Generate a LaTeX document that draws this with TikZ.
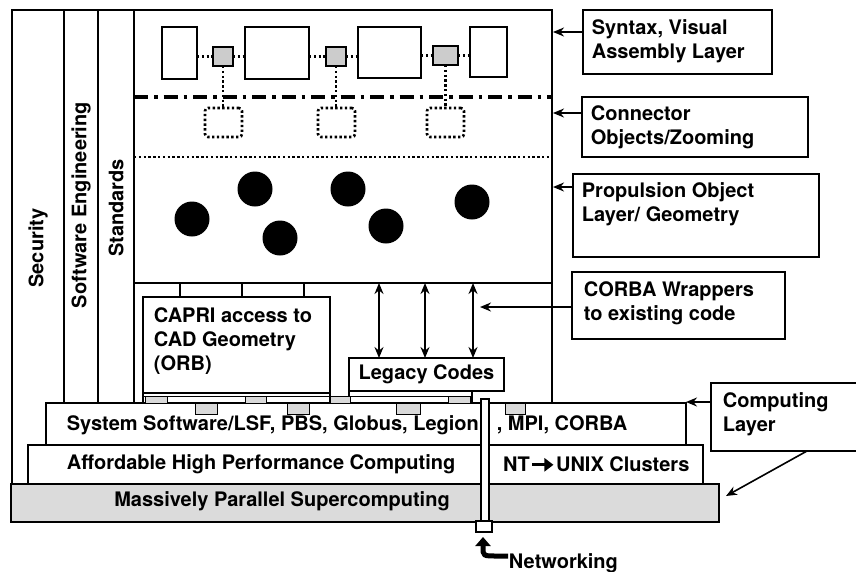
\documentclass[tikz,border=0pt]{standalone}
\usepackage{fontspec}
\newfontfamily\hv{TeX Gyre Heros}
\usetikzlibrary{arrows.meta}
\newcommand\bx[6]{\node[#6, anchor=north west, inner sep=0pt, outer sep=0pt, minimum width={#4pt-#2pt}, minimum height={#5pt-#3pt}] (#1) at (#2,#3) {};}
\newcommand\fatarrow{\tikz[baseline=0pt]{\draw[line width=3.2pt,-{Triangle[length=9pt,width=13pt]}] (0pt,6.5pt) -- (21pt,6.5pt);}}
\begin{document}
\begin{tikzpicture}[x=1pt,y=-1pt, line width=1.8pt,
  txt/.style={font=\hv\bfseries\fontsize{20}{24}\selectfont, inner sep=0pt},
  lbl/.style={txt, align=left, anchor=west},
  frame/.style={draw, line width=1.8pt},
  tab/.style={draw, fill=black!15, line width=1pt},
  sq/.style={draw, fill=black!20, line width=2.4pt},
  dbox/.style={draw, line width=2.6pt, dash pattern=on 2.4pt off 2.4pt, rounded corners=3pt},
  arr/.style={-{Stealth[length=11pt,width=9pt]}, line width=1.6pt},
  darr/.style={{Stealth[length=11pt,width=9pt]}-{Stealth[length=11pt,width=9pt]}, line width=1.6pt},
  dotl/.style={line width=2.6pt, dash pattern=on 2.4pt off 2.4pt},
  dashdot/.style={line width=3.2pt, dash pattern=on 14pt off 6pt on 3.5pt off 6pt},
  ball/.style={circle, fill=black, minimum size=35pt, inner sep=0pt}]
\useasboundingbox (0,0) rectangle (856,571);
\clip (0,0) rectangle (856,571);

% bottom layers
\bx{mass}{11}{484}{719}{522}{frame, fill=black!14}
\bx{aff}{28}{445}{703}{484}{frame, fill=white}
\bx{sys}{46}{403}{686}{445}{frame, fill=white}
\node[txt] (masst) at (282,501) {Massively Parallel Supercomputing};
\node[txt, anchor=west] (afft) at (66,464) {Affordable High Performance Computing};
\node[txt, anchor=west] (nt) at (503,464) {NT\kern1pt\fatarrow\kern1pt UNIX Clusters};
\node[txt, anchor=west] (syst) at (66,425) {System Software/LSF, PBS, Globus, Legion\kern18pt, MPI, CORBA};

% outer frame and columns
\draw[frame] (12,484) -- (12,10) -- (552,10) -- (552,403);
\draw[frame] (64,10) -- (64,403);
\draw[frame] (98,10) -- (98,403);
\draw[frame] (134,10) -- (134,403);
\draw[frame] (134,283) -- (552,283);
\node[txt, rotate=90] (sec) at (38,248) {Security};
\node[txt, rotate=90] (swe) at (81,205) {Software Engineering};
\node[txt, rotate=90] (std) at (116,208) {Standards};

% layer separators
\draw[dashdot] (134,97) -- (552,97);
\draw[dotl] (134,157) -- (552,157);

% syntax layer boxes
\bx{b1}{162}{27}{197}{79}{frame}
\bx{b2}{245}{27}{309}{79}{frame}
\bx{b3}{358}{27}{421}{78}{frame}
\bx{b4}{470}{27}{507}{77}{frame}
\bx{s1}{213}{47}{233}{66}{sq}
\bx{s2}{326}{47}{346}{66}{sq}
\bx{s3}{433}{46}{458}{65}{sq}
\bx{d1}{205}{108}{242}{137}{dbox}
\bx{d2}{318}{108}{355}{137}{dbox}
\bx{d3}{427}{108}{464}{137}{dbox}
\draw[dotl] (b1.east |- s1) -- (s1.west);
\draw[dotl] (s1.east) -- (b2.west |- s1);
\draw[dotl] (b2.east |- s2) -- (s2.west);
\draw[dotl] (s2.east) -- (b3.west |- s2);
\draw[dotl] (b3.east |- s3) -- (s3.west);
\draw[dotl] (s3.east) -- (b4.west |- s3);
\draw[dotl] (s1.south) -- (s1.south |- d1.north);
\draw[dotl] (s2.south) -- (s2.south |- d2.north);
\draw[dotl] (s3.south) -- (s3.south |- d3.north);

% propulsion objects
\node[ball] (c1) at (192,219) {};
\node[ball] (c2) at (255,189) {};
\node[ball] (c3) at (280,238) {};
\node[ball] (c4) at (348,189) {};
\node[ball] (c5) at (386,226) {};
\node[ball] (c6) at (472,202) {};

% lower section
\bx{capri}{143}{297}{330}{393}{frame}
\node[lbl] (caprit) at (153,341) {CAPRI access to\\CAD Geometry\\(ORB)};
\foreach \xx in {180,242,304} \draw[frame] (\xx,283) -- (\xx,297);
\bx{leg}{349}{358}{504}{391}{frame}
\node[txt] (legt) at (leg.center) {Legacy Codes};
\coordinate (u1) at (379,283); \coordinate (u2) at (425,283); \coordinate (u3) at (473,283);
\draw[darr] (u1) -- (u1 |- leg.north);
\draw[darr] (u2) -- (u2 |- leg.north);
\draw[darr] (u3) -- (u3 |- leg.north);
\draw[line width=1.2pt] (143,393) -- (143,403) (330,393) -- (330,403) (349,391) -- (349,403) (472,391) -- (472,403);
\draw[line width=1pt] (143,396) -- (330,396) (349,396) -- (472,396);
\foreach \xa/\xb in {145/167,245/266,330/350,448/470} \draw[tab] (\xa,396) rectangle (\xb,403);
\foreach \xa/\xb in {195/217,287/309,396/420,505/525} \draw[tab] (\xa,403) rectangle (\xb,414);

% networking pole
\bx{pole}{481}{399}{489}{521}{draw, fill=white, line width=1.3pt}
\bx{psq}{476}{521}{492}{532}{draw, fill=white, line width=1.3pt}
\node[txt, anchor=west] (net) at (508,563) {Networking};
\draw[line width=5pt, -{Triangle[length=9pt,width=15pt]}] (net.west |- 0,556) -- (497,556) .. controls (483,556) .. (483,547) -- (483,537);

% right-hand labels
\bx{syn}{583}{10}{772}{74}{frame}
\node[lbl] (synt) at (591,41) {Syntax, Visual\\Assembly Layer};
\bx{con}{582}{97}{808}{157}{frame}
\node[lbl] (cont) at (590,127) {Connector\\Objects/Zooming};
\bx{prop}{573}{174}{819}{257}{frame}
\node[lbl] (propt) at (581,204) {Propulsion Object\\Layer/ Geometry};
\bx{corba}{572}{272}{785}{339}{frame}
\node[lbl] (corbat) at (583,303) {CORBA Wrappers\\to existing code};
\bx{comp}{711}{383}{870}{451}{frame}
\node[lbl] (compt) at (722,414) {Computing\\Layer};

\coordinate (t1) at (553,32);
\coordinate (t2) at (553,113);
\coordinate (t3) at (553,187);
\coordinate (t4) at (480,307);
\coordinate (t5) at (686,402);
\coordinate (t6) at (726,496);
\draw[arr] (syn.west |- t1) -- (t1);
\draw[arr] (con.west |- t2) -- (t2);
\draw[arr] (prop.west |- t3) -- (t3);
\draw[arr] (corba.west |- t4) -- (t4);
\draw[arr] (comp.west |- t5) -- (t5);
\draw[arr] (807,451) -- (t6);
\end{tikzpicture}
\end{document}
